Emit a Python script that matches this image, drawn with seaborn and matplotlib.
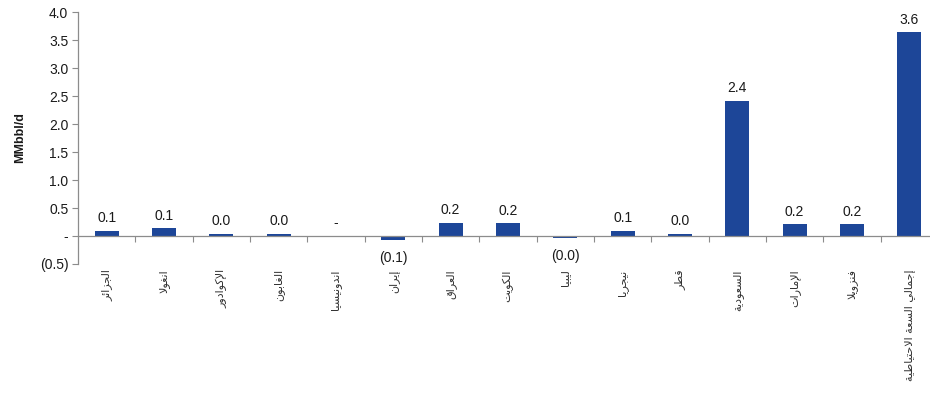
import matplotlib
matplotlib.use("Agg")
import matplotlib.pyplot as plt
import seaborn as sns
import pandas as pd
from matplotlib.ticker import FuncFormatter, FixedLocator, MultipleLocator

# Spare production capacity by country (MMbbl/d)
countries = ["الجزائر", "انغولا", "الإكوادور", "الغابون", "اندونيسيا", "إيران",
             "العراق", "الكويت", "ليبيا", "نيجريا", "قطر", "السعودية",
             "الإمارات", "فنزويلا", "إجمالي السعة الاحتياطية"]
capacity = [0.09, 0.14, 0.04, 0.04, 0.0, -0.07,
            0.24, 0.23, -0.03, 0.09, 0.04, 2.41,
            0.21, 0.21, 3.64]

BAR_COLOR = "#1D4698"
GRID_GRAY = "#8C8C8C"
TEXT = "#1A1A1A"

# --- minimal Arabic shaping: contextual forms + right-to-left ordering ---
FORMS = {
    "ا": (0xFE8D, 0xFE8E, None, None), "أ": (0xFE83, 0xFE84, None, None),
    "إ": (0xFE87, 0xFE88, None, None), "ئ": (0xFE89, 0xFE8A, 0xFE8B, 0xFE8C),
    "ب": (0xFE8F, 0xFE90, 0xFE91, 0xFE92), "ة": (0xFE93, 0xFE94, None, None),
    "ت": (0xFE95, 0xFE96, 0xFE97, 0xFE98), "ج": (0xFE9D, 0xFE9E, 0xFE9F, 0xFEA0),
    "ح": (0xFEA1, 0xFEA2, 0xFEA3, 0xFEA4), "د": (0xFEA9, 0xFEAA, None, None),
    "ر": (0xFEAD, 0xFEAE, None, None), "ز": (0xFEAF, 0xFEB0, None, None),
    "س": (0xFEB1, 0xFEB2, 0xFEB3, 0xFEB4), "ط": (0xFEC1, 0xFEC2, 0xFEC3, 0xFEC4),
    "ع": (0xFEC9, 0xFECA, 0xFECB, 0xFECC), "غ": (0xFECD, 0xFECE, 0xFECF, 0xFED0),
    "ف": (0xFED1, 0xFED2, 0xFED3, 0xFED4), "ق": (0xFED5, 0xFED6, 0xFED7, 0xFED8),
    "ك": (0xFED9, 0xFEDA, 0xFEDB, 0xFEDC), "ل": (0xFEDD, 0xFEDE, 0xFEDF, 0xFEE0),
    "م": (0xFEE1, 0xFEE2, 0xFEE3, 0xFEE4), "ن": (0xFEE5, 0xFEE6, 0xFEE7, 0xFEE8),
    "و": (0xFEED, 0xFEEE, None, None), "ي": (0xFEF1, 0xFEF2, 0xFEF3, 0xFEF4),
}
LAM_ALEF = {"ا": (0xFEFB, 0xFEFC), "أ": (0xFEF7, 0xFEF8), "إ": (0xFEF9, 0xFEFA)}


def joins_next(ch):
    return ch in FORMS and FORMS[ch][2] is not None


def shape(word):
    out = []
    i = 0
    n = len(word)
    while i < n:
        ch = word[i]
        if ch not in FORMS:
            out.append(ch)
            i += 1
            continue
        prev = word[i - 1] if i > 0 else None
        link_prev = prev is not None and joins_next(prev)
        if ch == "ل" and i + 1 < n and word[i + 1] in LAM_ALEF:
            iso, fin = LAM_ALEF[word[i + 1]]
            out.append(chr(fin if link_prev else iso))
            i += 2
            continue
        nxt = word[i + 1] if i + 1 < n else None
        link_next = joins_next(ch) and nxt is not None and nxt in FORMS
        iso, fin, ini, med = FORMS[ch]
        if link_prev and link_next:
            code = med
        elif link_prev:
            code = fin
        elif link_next:
            code = ini
        else:
            code = iso
        out.append(chr(code))
        i += 1
    return "".join(reversed(out))


df = pd.DataFrame({"country": countries, "capacity": capacity})

sns.set_theme(style="white")
plt.rcParams["font.family"] = ["Liberation Sans", "DejaVu Sans"]

fig = plt.figure(figsize=(9.30, 3.94), dpi=100)
ax = fig.add_axes([78 / 930, 1 - 264 / 394, (938 - 78) / 930, (264 - 12) / 394])

sns.barplot(data=df, x="country", y="capacity", color=BAR_COLOR, width=0.42,
            saturation=1, linewidth=0, edgecolor="none", ax=ax, zorder=3)

ax.set_ylim(-0.5, 4.0)
ax.set_xlim(-0.5, len(countries) - 0.5)
ax.yaxis.set_major_locator(MultipleLocator(0.5))


def fmt_num(v, pos=None):
    if abs(v) < 1e-9:
        return "-"
    if v < 0:
        return f"({abs(v):.1f})"
    return f"{v:.1f}"


ax.yaxis.set_major_formatter(FuncFormatter(fmt_num))
ax.tick_params(axis="y", direction="out", length=4, width=0.8, color=GRID_GRAY,
               labelsize=10, labelcolor=TEXT, pad=3, left=True)

# category axis sits on the zero line; ticks mark the category boundaries
for side in ("top", "right"):
    ax.spines[side].set_visible(False)
ax.spines["left"].set_color(GRID_GRAY)
ax.spines["left"].set_linewidth(0.9)
ax.spines["bottom"].set_position(("data", 0))
ax.spines["bottom"].set_color(GRID_GRAY)
ax.spines["bottom"].set_linewidth(0.9)
ax.spines["bottom"].set_zorder(4)

ax.xaxis.set_minor_locator(FixedLocator([i + 0.5 for i in range(len(countries) - 1)]))
ax.tick_params(axis="x", which="minor", direction="out", length=4, width=0.8,
               color=GRID_GRAY, bottom=True)
ax.tick_params(axis="x", which="major", length=0, pad=24)
ax.set_xticks(range(len(countries)))
ax.set_xticklabels([shape(c) for c in countries], rotation=90, fontsize=8,
                   family=["DejaVu Sans"], color="#333333", va="top", ha="center")
ax.set_xlabel("")

ax.set_ylabel("MMbbl/d", fontsize=9, fontweight="bold", color=TEXT, labelpad=10)

# value labels at the outer end of each bar
for i, v in enumerate(capacity):
    if v < 0:
        ax.annotate(fmt_num(v), (i, v), xytext=(0, -8), textcoords="offset points",
                    ha="center", va="top", fontsize=10, color=TEXT)
    else:
        ax.annotate(fmt_num(v), (i, v), xytext=(0, 4), textcoords="offset points",
                    ha="center", va="bottom", fontsize=10, color=TEXT)

fig.savefig("out.png", dpi=100)
